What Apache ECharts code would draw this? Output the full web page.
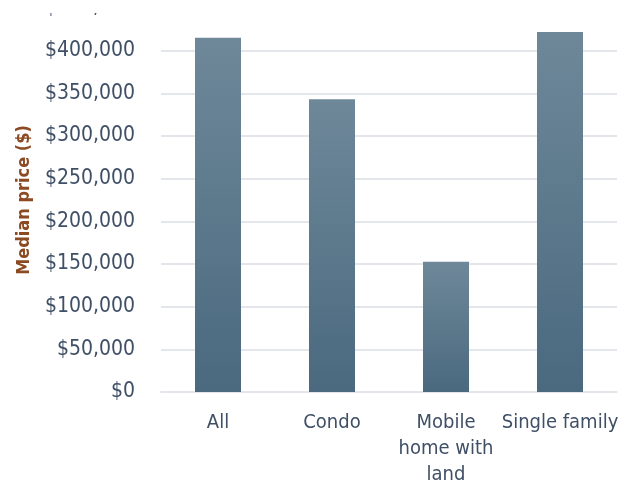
<!DOCTYPE html>
<html>
<head>
<meta charset="utf-8">
<script src="https://cdn.jsdelivr.net/npm/echarts@6/dist/echarts.min.js"></script>
<style>html,body{margin:0;padding:0;background:#fff;}#c{width:628px;height:483px;}</style>
</head>
<body>
<div id="c"></div>
<script>
const categories = ["All", "Condo", "Mobile\nhome with\nland", "Single family"];
const medianPrice = [415000, 343000, 152500, 422000];
const yMin = 0, yMax = 450000, yStep = 50000;
const yTitle = "Median price ($)";

const NARROW = "'DejaVu Sans Condensed', 'Liberation Sans', sans-serif";
const chart = echarts.init(document.getElementById('c'), null, {renderer: 'canvas'});
chart.setOption({
  animation: false,
  backgroundColor: '#ffffff',
  grid: {left: 161, right: 11, top: 8, bottom: 91, containLabel: false, outerBoundsMode: 'none'},
  xAxis: {
    type: 'category',
    data: categories,
    axisLine: {show: true, lineStyle: {color: '#e3e7ec', width: 2}},
    axisTick: {show: false},
    axisLabel: {
      color: '#3f4f66', fontFamily: NARROW, fontSize: 20,
      margin: 18, lineHeight: 26, interval: 0
    }
  },
  yAxis: {
    type: 'value',
    min: yMin, max: yMax, interval: yStep,
    name: yTitle,
    nameLocation: 'middle',
    nameGap: 128,
    nameTextStyle: {color: '#8b4a22', fontFamily: NARROW, fontWeight: 'bold', fontSize: 18},
    axisLine: {show: false},
    axisTick: {show: false},
    splitLine: {lineStyle: {color: '#e3e7ec', width: 2}},
    axisLabel: {
      color: '#3f4f66', fontFamily: NARROW, fontSize: 21, margin: 26,
      formatter: v => '$' + v.toLocaleString('en-US')
    }
  },
  series: [{
    type: 'bar',
    data: medianPrice,
    barWidth: 46,
    itemStyle: {
      color: new echarts.graphic.LinearGradient(0, 0, 0, 1, [
        {offset: 0, color: '#6e8899'},
        {offset: 1, color: '#4a697f'}
      ])
    }
  }],
  graphic: [{
    type: 'rect', left: 0, top: 0, z: 100,
    shape: {width: 628, height: 13},
    style: {fill: '#ffffff'}
  }]
});
</script>
</body>
</html>
